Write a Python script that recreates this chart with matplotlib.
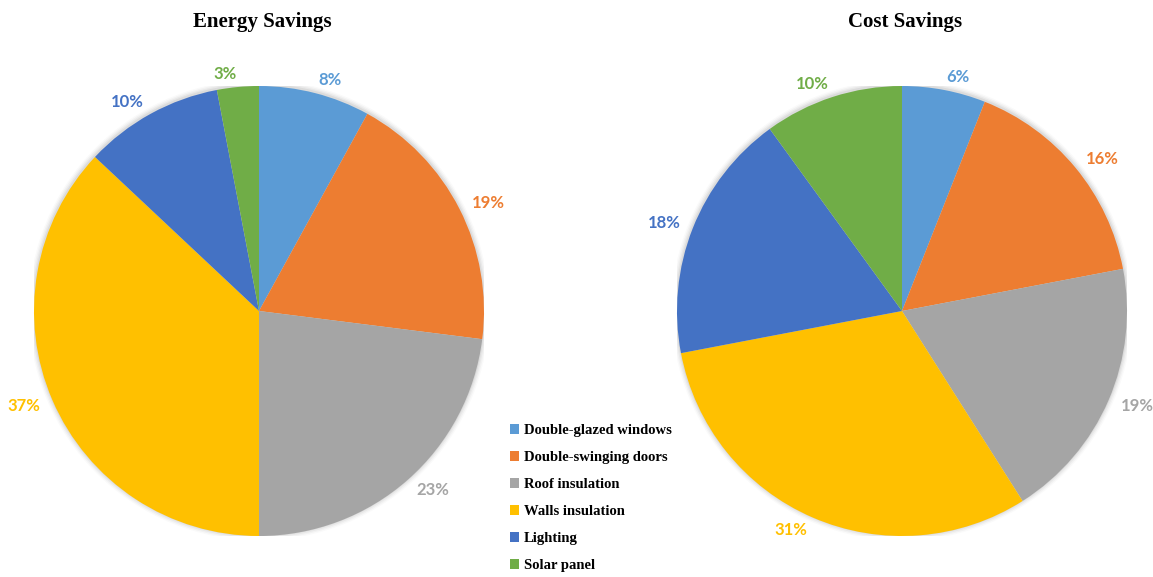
import matplotlib.pyplot as plt
from matplotlib.patches import Circle

# savings share per measure
measures = ['Double-glazed windows', 'Double-swinging doors', 'Roof insulation',
            'Walls insulation', 'Lighting', 'Solar panel']
energy = [8, 19, 23, 37, 10, 3]
cost = [6, 16, 19, 31, 18, 10]
colors = ['#5B9BD5', '#ED7D31', '#A5A5A5', '#FFC000', '#4472C4', '#70AD47']

W, H = 1153, 577
fig = plt.figure(figsize=(W / 100, H / 100), dpi=100)


def draw_pie(cx, cy, r, values, title):
    ax = fig.add_axes([(cx - r) / W, (H - cy - r) / H, 2 * r / W, 2 * r / H])
    # soft shadow round the edge
    for k, a in enumerate([0.05, 0.04, 0.03, 0.02]):
        ax.add_patch(Circle((0, 0.004), 1.0 + 0.006 * (k + 1), color='#000000',
                            alpha=a, lw=0, zorder=0))
    pct = ['%d%%' % v for v in values]
    wedges, texts = ax.pie(values, colors=colors, startangle=90, counterclock=False,
                           labels=pct, labeldistance=1.06, radius=1,
                           textprops=dict(fontfamily='Lato', fontweight='bold', fontsize=12),
                           wedgeprops=dict(linewidth=0, zorder=1))
    for t, c in zip(texts, colors):
        t.set_color(c)
        t.set_va('center')
    ax.set_xlim(-1, 1)
    ax.set_ylim(-1, 1)
    ax.set_aspect('equal')
    ax.axis('off')
    fig.text((cx + 3) / W, 1 - 22 / H, title, ha='center', va='center',
             fontfamily='Liberation Serif', fontweight='bold', fontsize=15)
    return wedges


wedges = draw_pie(259, 311, 225, energy, 'Energy Savings')
draw_pie(902, 311, 225, cost, 'Cost Savings')

fig.legend(wedges, measures, loc='upper left', bbox_to_anchor=(510 / W, 1 - 424 / H),
           frameon=False, handlelength=0.65, handleheight=0.65, handletextpad=0.3,
           labelspacing=0.96, borderpad=0, borderaxespad=0,
           prop=dict(family='Liberation Serif', weight='bold', size=10.5))

fig.savefig('out.png', dpi=100)
